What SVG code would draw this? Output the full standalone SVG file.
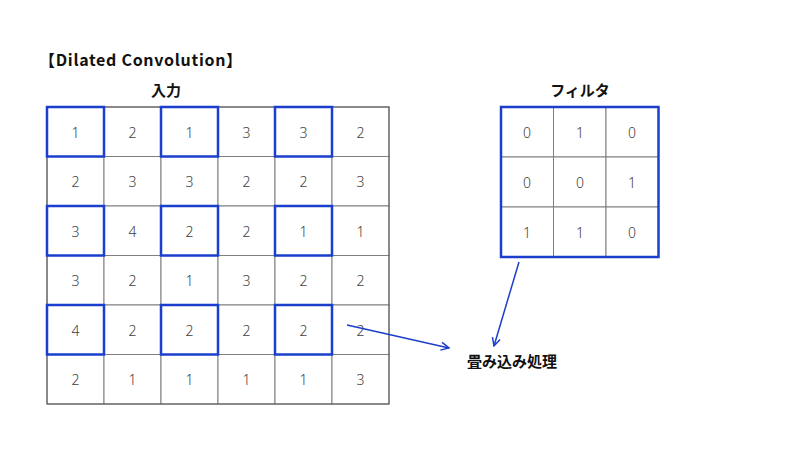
<svg xmlns="http://www.w3.org/2000/svg" width="800" height="450" viewBox="0 0 800 450">
<style>
.cell{fill:#fff;stroke:#7f7f7f;stroke-width:1}
.hl{fill:none;stroke:#1a3fcc;stroke-width:2.5}
.num{font-family:"Noto Sans","Liberation Sans",sans-serif;font-size:14px;font-weight:300;fill:#404040;text-anchor:middle;dominant-baseline:central}
.lbl{font-family:"Noto Sans CJK JP","Liberation Sans",sans-serif;font-weight:bold;font-size:15px;fill:#111}
.title{font-family:"Noto Sans CJK JP","Liberation Sans",sans-serif;font-weight:bold;font-size:16px;letter-spacing:0.7px;fill:#111}
.conn{stroke:#1a3fcc;stroke-width:1.5;fill:none;marker-end:url(#arr)}
</style>
<defs>
<marker id="arr" viewBox="0 0 10 10" refX="9" refY="5" markerWidth="10" markerHeight="10" markerUnits="userSpaceOnUse" orient="auto">
<path d="M1,1 L9,5 L1,9" fill="none" stroke="#1a3fcc" stroke-width="1.5"/>
</marker>
</defs>
<rect width="800" height="450" fill="#fff"/>
<text class="title" x="39" y="66">【Dilated Convolution】</text>
<text class="lbl" x="166" y="96" text-anchor="middle">入力</text>
<text class="lbl" x="580" y="96" text-anchor="middle">フィルタ</text>
<g id="input">
<g class="cellsIn">
<rect class="cell" x="47" y="107" width="57" height="49.5"/><rect class="cell" x="104" y="107" width="57" height="49.5"/><rect class="cell" x="161" y="107" width="57" height="49.5"/><rect class="cell" x="218" y="107" width="57" height="49.5"/><rect class="cell" x="275" y="107" width="57" height="49.5"/><rect class="cell" x="332" y="107" width="57" height="49.5"/>
<rect class="cell" x="47" y="156.5" width="57" height="49.5"/><rect class="cell" x="104" y="156.5" width="57" height="49.5"/><rect class="cell" x="161" y="156.5" width="57" height="49.5"/><rect class="cell" x="218" y="156.5" width="57" height="49.5"/><rect class="cell" x="275" y="156.5" width="57" height="49.5"/><rect class="cell" x="332" y="156.5" width="57" height="49.5"/>
<rect class="cell" x="47" y="206" width="57" height="49.5"/><rect class="cell" x="104" y="206" width="57" height="49.5"/><rect class="cell" x="161" y="206" width="57" height="49.5"/><rect class="cell" x="218" y="206" width="57" height="49.5"/><rect class="cell" x="275" y="206" width="57" height="49.5"/><rect class="cell" x="332" y="206" width="57" height="49.5"/>
<rect class="cell" x="47" y="255.5" width="57" height="49.5"/><rect class="cell" x="104" y="255.5" width="57" height="49.5"/><rect class="cell" x="161" y="255.5" width="57" height="49.5"/><rect class="cell" x="218" y="255.5" width="57" height="49.5"/><rect class="cell" x="275" y="255.5" width="57" height="49.5"/><rect class="cell" x="332" y="255.5" width="57" height="49.5"/>
<rect class="cell" x="47" y="305" width="57" height="49.5"/><rect class="cell" x="104" y="305" width="57" height="49.5"/><rect class="cell" x="161" y="305" width="57" height="49.5"/><rect class="cell" x="218" y="305" width="57" height="49.5"/><rect class="cell" x="275" y="305" width="57" height="49.5"/><rect class="cell" x="332" y="305" width="57" height="49.5"/>
<rect class="cell" x="47" y="354.5" width="57" height="49.5"/><rect class="cell" x="104" y="354.5" width="57" height="49.5"/><rect class="cell" x="161" y="354.5" width="57" height="49.5"/><rect class="cell" x="218" y="354.5" width="57" height="49.5"/><rect class="cell" x="275" y="354.5" width="57" height="49.5"/><rect class="cell" x="332" y="354.5" width="57" height="49.5"/>
</g>
<rect x="47" y="107" width="342" height="297" fill="none" stroke="#555" stroke-width="1"/>
<g class="nums">
<text class="num" x="75.5" y="132">1</text><text class="num" x="132.5" y="132">2</text><text class="num" x="189.5" y="132">1</text><text class="num" x="246.5" y="132">3</text><text class="num" x="303.5" y="132">3</text><text class="num" x="360.5" y="132">2</text>
<text class="num" x="75.5" y="181.5">2</text><text class="num" x="132.5" y="181.5">3</text><text class="num" x="189.5" y="181.5">3</text><text class="num" x="246.5" y="181.5">2</text><text class="num" x="303.5" y="181.5">2</text><text class="num" x="360.5" y="181.5">3</text>
<text class="num" x="75.5" y="231">3</text><text class="num" x="132.5" y="231">4</text><text class="num" x="189.5" y="231">2</text><text class="num" x="246.5" y="231">2</text><text class="num" x="303.5" y="231">1</text><text class="num" x="360.5" y="231">1</text>
<text class="num" x="75.5" y="280.5">3</text><text class="num" x="132.5" y="280.5">2</text><text class="num" x="189.5" y="280.5">1</text><text class="num" x="246.5" y="280.5">3</text><text class="num" x="303.5" y="280.5">2</text><text class="num" x="360.5" y="280.5">2</text>
<text class="num" x="75.5" y="330">4</text><text class="num" x="132.5" y="330">2</text><text class="num" x="189.5" y="330">2</text><text class="num" x="246.5" y="330">2</text><text class="num" x="303.5" y="330">2</text><text class="num" x="360.5" y="330">2</text>
<text class="num" x="75.5" y="379.5">2</text><text class="num" x="132.5" y="379.5">1</text><text class="num" x="189.5" y="379.5">1</text><text class="num" x="246.5" y="379.5">1</text><text class="num" x="303.5" y="379.5">1</text><text class="num" x="360.5" y="379.5">3</text>
</g>
<g class="highlights">
<rect class="hl" x="47" y="107" width="57" height="49.5"/><rect class="hl" x="161" y="107" width="57" height="49.5"/><rect class="hl" x="275" y="107" width="57" height="49.5"/>
<rect class="hl" x="47" y="206" width="57" height="49.5"/><rect class="hl" x="161" y="206" width="57" height="49.5"/><rect class="hl" x="275" y="206" width="57" height="49.5"/>
<rect class="hl" x="47" y="305" width="57" height="49.5"/><rect class="hl" x="161" y="305" width="57" height="49.5"/><rect class="hl" x="275" y="305" width="57" height="49.5"/>
</g>
</g>
<g id="filter">
<rect class="cell" x="501" y="107" width="52.5" height="50"/><rect class="cell" x="553.5" y="107" width="52.5" height="50"/><rect class="cell" x="606" y="107" width="52.5" height="50"/>
<rect class="cell" x="501" y="157" width="52.5" height="50"/><rect class="cell" x="553.5" y="157" width="52.5" height="50"/><rect class="cell" x="606" y="157" width="52.5" height="50"/>
<rect class="cell" x="501" y="207" width="52.5" height="50"/><rect class="cell" x="553.5" y="207" width="52.5" height="50"/><rect class="cell" x="606" y="207" width="52.5" height="50"/>
<rect class="hl" x="501" y="107" width="157.5" height="150"/>
<text class="num" x="527" y="132">0</text><text class="num" x="580" y="132">1</text><text class="num" x="632" y="132">0</text>
<text class="num" x="527" y="182">0</text><text class="num" x="580" y="182">0</text><text class="num" x="632" y="182">1</text>
<text class="num" x="527" y="232">1</text><text class="num" x="580" y="232">1</text><text class="num" x="632" y="232">0</text>
</g>
<g id="output">
<text class="lbl" x="467" y="367">畳み込み処理</text>
</g>
<g id="connectors">
<line class="conn" x1="347" y1="325" x2="449" y2="348"/>
<line class="conn" x1="519" y1="262" x2="494" y2="346"/>
</g>
</svg>
